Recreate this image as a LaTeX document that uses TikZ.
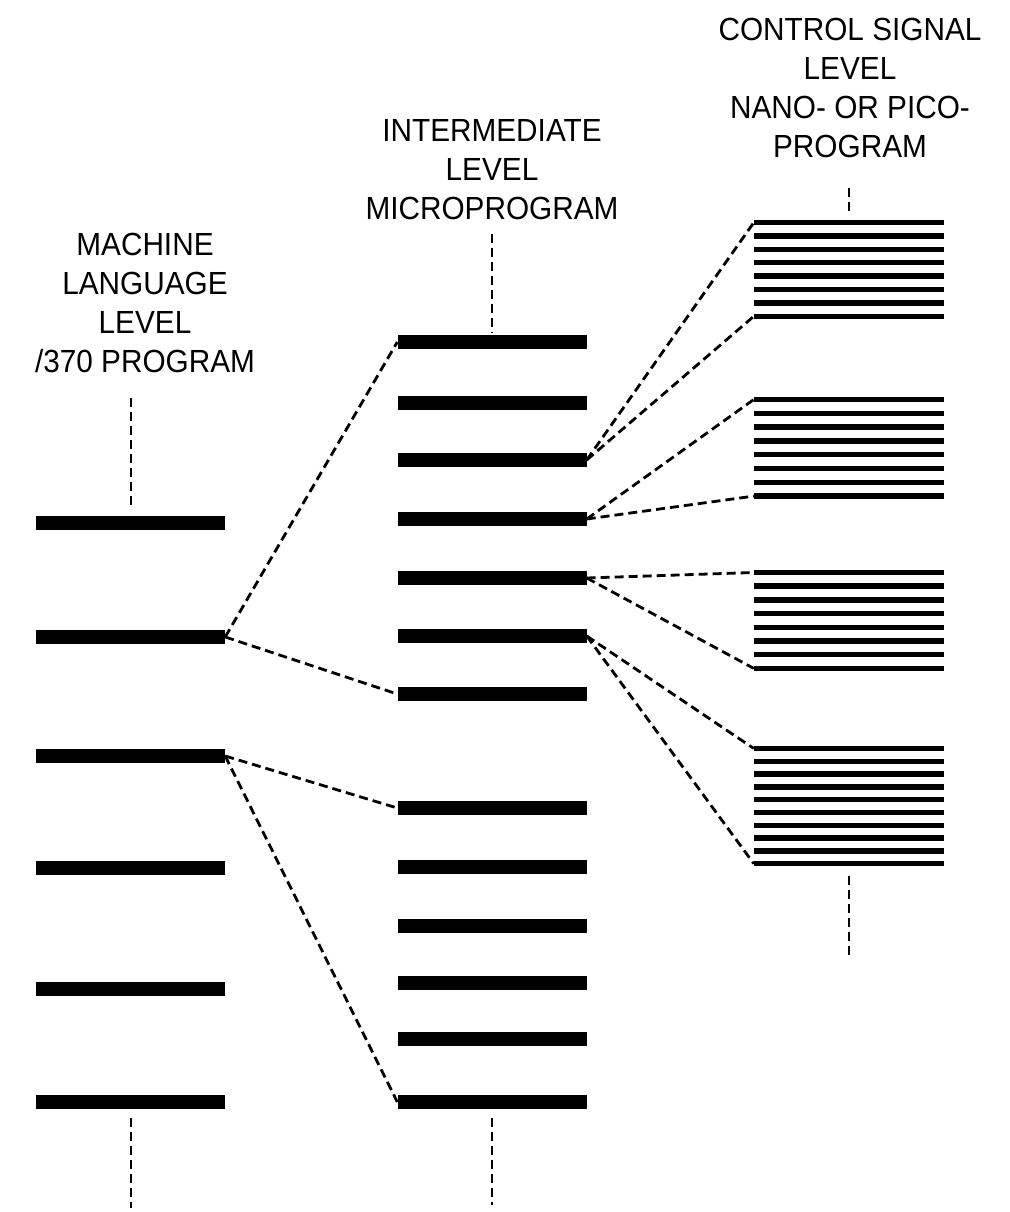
\documentclass[tikz,border=0pt]{standalone}
\usepackage{fontspec}
\setmainfont[FakeStretch=0.93]{Liberation Sans}
\usetikzlibrary{positioning}

\begin{document}
\begin{tikzpicture}[x=1pt,y=-1pt,
  bar/.style={fill=black, inner sep=0pt, minimum width=189pt, minimum height=14pt},
  sig/.style={fill=black, inner sep=0pt, minimum width=190pt, minimum height=5.5pt},
  link/.style={line width=2.8pt, dash pattern=on 9pt off 5pt},
  guide/.style={line width=2pt, dash pattern=on 9pt off 5pt},
  lvl/.style={align=center, inner sep=0pt, font=\fontsize{32}{39}\selectfont}]
  \useasboundingbox (0,0) rectangle (1009,1212);

  % machine language level
  \node[lvl] (mll) at (145,303) {MACHINE\\LANGUAGE\\LEVEL\\/370 PROGRAM};
  \foreach \y [count=\i] in {523,637,756,868,989,1102}
    \node[bar] (m\i) at (130.5,\y) {};

  % intermediate level
  \node[lvl] (ilv) at (492,170) {INTERMEDIATE\\LEVEL\\MICROPROGRAM};
  \foreach \y [count=\i] in {342,403,460,519,578,636,694,808,867,926,983,1039,1102}
    \node[bar] (i\i) at (492,\y) {};

  % control signal level
  \node[lvl] (csl) at (850,88) {CONTROL SIGNAL\\LEVEL\\NANO- OR PICO-\\PROGRAM};
  \foreach \g/\top/\n/\d in {1/222.5/8/13.4, 2/399.5/8/13.8, 3/572.5/8/13.7, 4/748.5/10/12.8}
    \foreach \k in {1,...,\n}
      \node[sig] (c\g-\k) at (849,{\top+(\k-1)*\d}) {};

  % expansion into the next level
  \draw[link] (m2.east) -- (i1.west);
  \draw[link] (m2.east) -- (i7.west);
  \draw[link] (m3.east) -- (i8.west);
  \draw[link] (m3.east) -- (i13.west);
  \draw[link] (i3.east) -- (c1-1.west);
  \draw[link] (i3.east) -- (c1-8.west);
  \draw[link] (i4.east) -- (c2-1.west);
  \draw[link] (i4.east) -- (c2-8.west);
  \draw[link] (i5.east) -- (c3-1.west);
  \draw[link] (i5.east) -- (c3-8.west);
  \draw[link] (i6.east) -- (c4-1.west);
  \draw[link] (i6.east) -- (c4-10.west);

  % continuation marks
  \coordinate (mend) at (130.5,1208);
  \coordinate (iend) at (492,1205);
  \coordinate (cend) at (849,958);
  \draw[guide, shorten <=25pt, shorten >=8pt] (mll.south -| m1.north) -- (m1.north);
  \draw[guide, shorten <=9pt] (m6.south) -- (mend);
  \draw[guide, shorten <=14pt, shorten >=2pt] (ilv.south -| i1.north) -- (i1.north);
  \draw[guide, shorten <=9pt] (i13.south) -- (iend);
  \draw[guide, shorten <=30pt, shorten >=8pt] (csl.south -| c1-1.north) -- (c1-1.north);
  \draw[guide, shorten <=9pt] (c4-10.south) -- (cend);
\end{tikzpicture}
\end{document}
